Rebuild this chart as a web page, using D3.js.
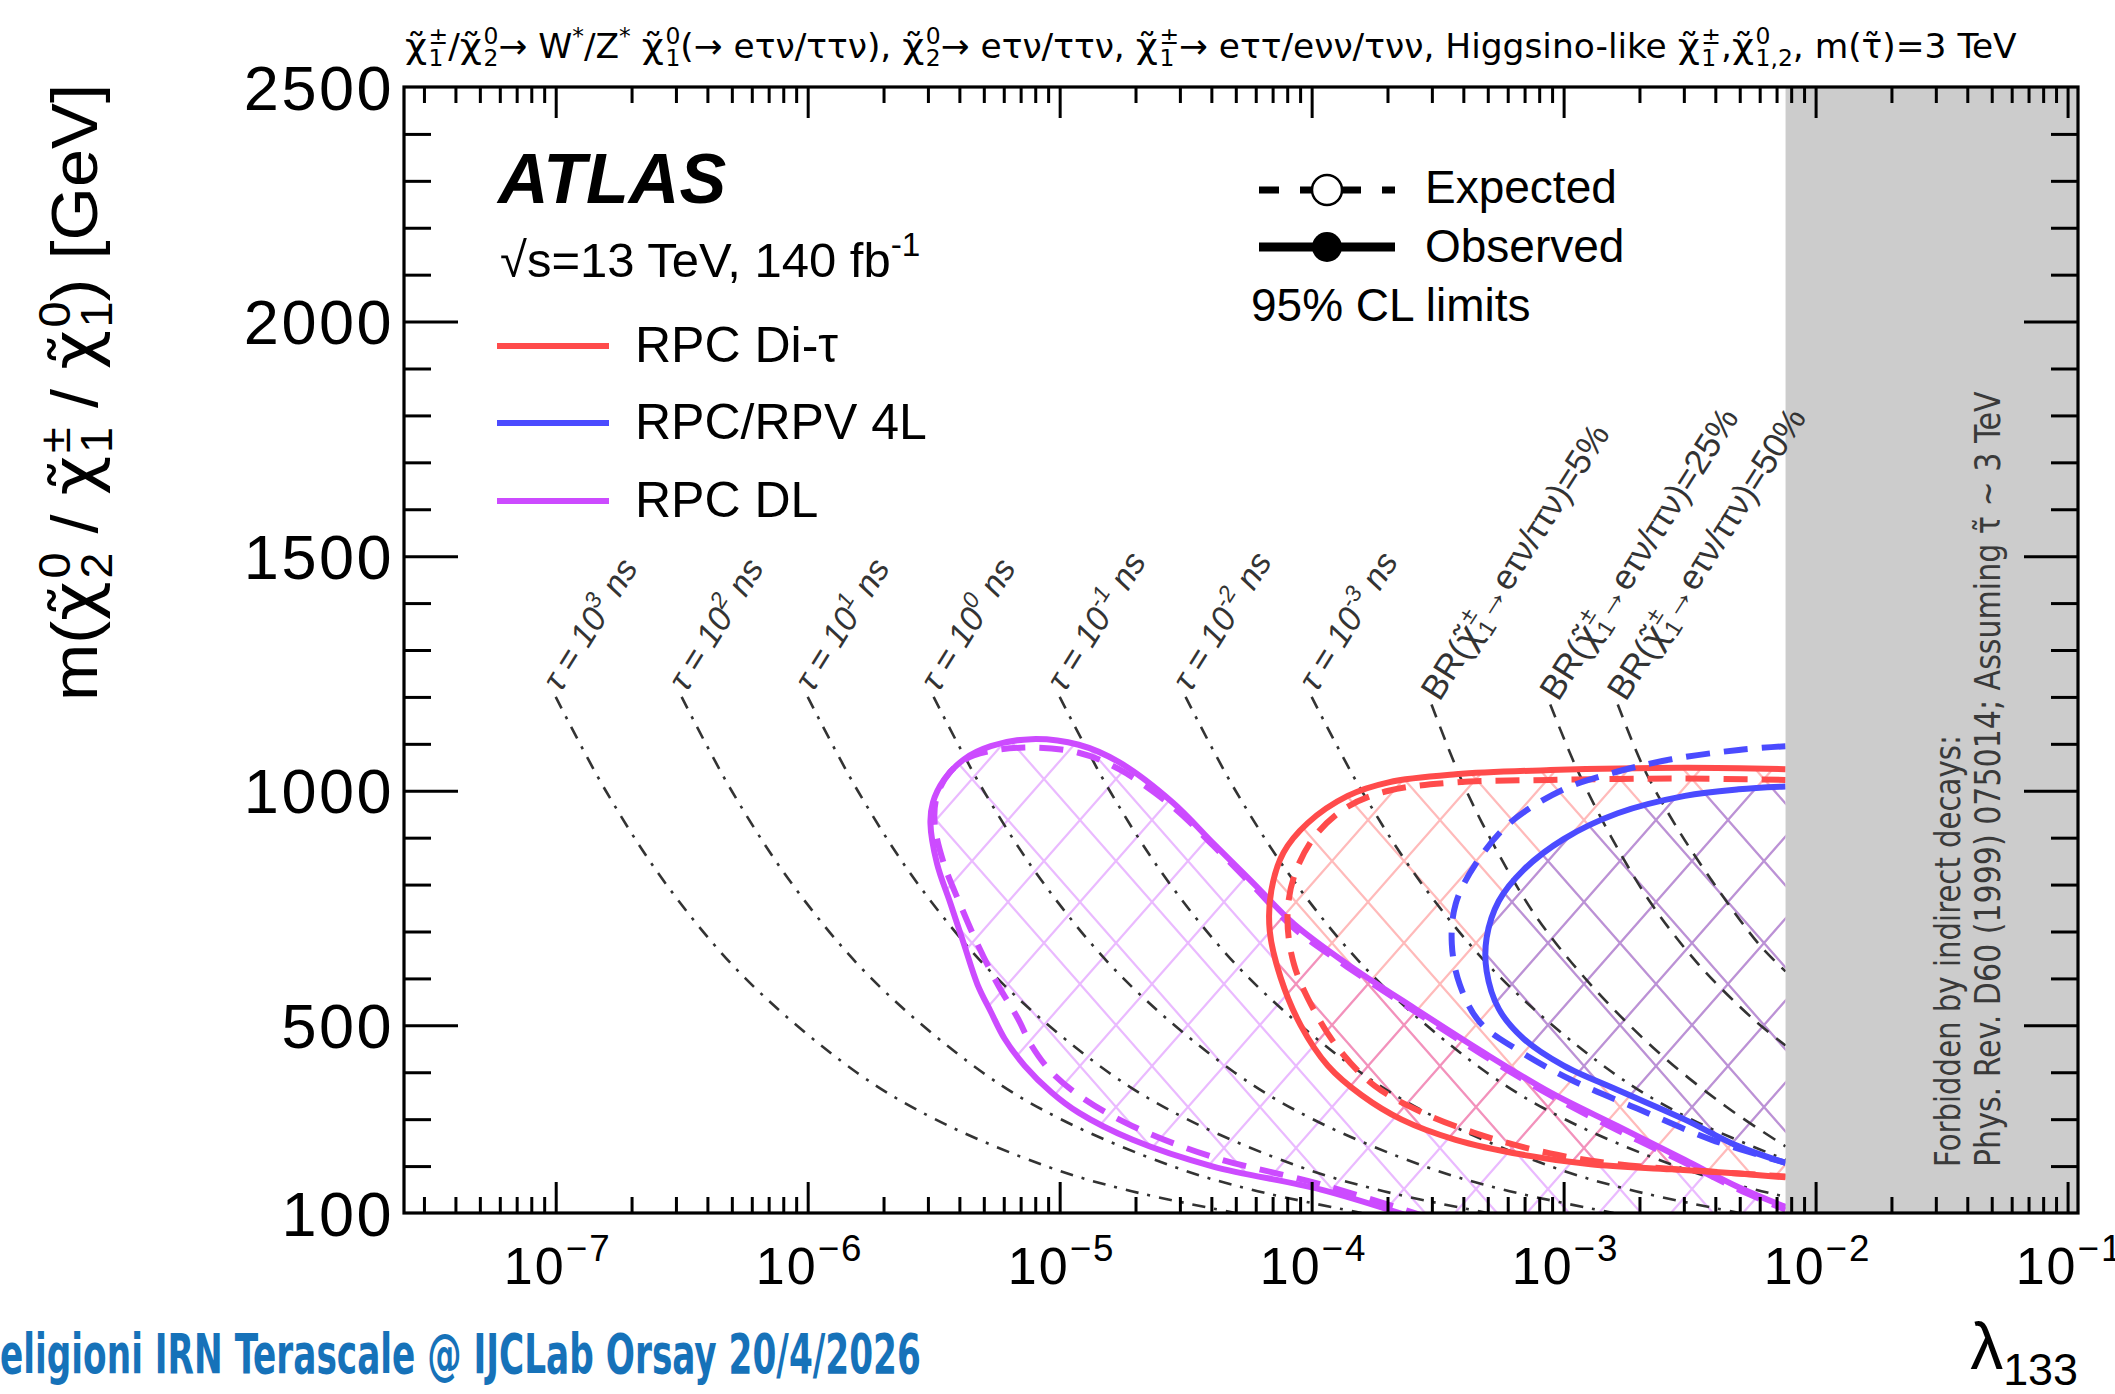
<!DOCTYPE html>
<html>
<head>
<meta charset="utf-8">
<script src="https://cdn.jsdelivr.net/npm/d3@7"></script>
<style>
  html, body { margin: 0; padding: 0; background: #fff; }
  svg { display: block; font-family: 'Liberation Sans', Arial, Helvetica, sans-serif; }
</style>
</head>
<body>
<div id="chart"></div>
<script>
// ---- values ([lambda133, mass GeV]) ----
const xTickValues = [1e-7, 1e-6, 1e-5, 1e-4, 1e-3, 1e-2, 1e-1];
const xTickExponents = ['\u22127', '\u22126', '\u22125', '\u22124', '\u22123', '\u22122', '\u22121'];
const yTickValues = [100, 500, 1000, 1500, 2000, 2500];
const forbiddenFrom = 7.6e-3;

// RPC DL
const dlObs = [[2.75e-4, 84], [1.09e-4, 150], [4.07e-5, 199], [1.95e-5, 256], [1.19e-5, 314], [9.29e-6, 357],
  [7.26e-6, 414], [6.04e-6, 472], [5.33e-6, 529], [4.72e-6, 587], [4.17e-6, 673], [3.69e-6, 759], [3.26e-6, 845],
  [3.07e-6, 931], [3.14e-6, 975], [3.47e-6, 1023], [4.17e-6, 1067], [5.33e-6, 1095], [7.73e-6, 1110],
  [1.19e-5, 1098], [1.72e-5, 1061], [2.81e-5, 975], [4.07e-5, 888], [5.89e-5, 802], [8.51e-5, 716],
  [1.39e-4, 630], [2.58e-4, 535], [4.78e-4, 443], [8.85e-4, 357], [1.64e-3, 285], [3.03e-3, 213],
  [4.95e-3, 155], [7.6e-3, 113]];
const dlExp = [[2.92e-4, 90], [1.09e-4, 161], [4.07e-5, 219], [1.95e-5, 285], [1.26e-5, 342], [9.29e-6, 400],
  [7.73e-6, 457], [6.82e-6, 515], [5.68e-6, 587], [4.72e-6, 673], [4.02e-6, 759], [3.47e-6, 845], [3.19e-6, 931],
  [3.26e-6, 989], [3.69e-6, 1041], [4.55e-6, 1075], [7.26e-6, 1092], [1.19e-5, 1081], [1.72e-5, 1046],
  [2.81e-5, 966], [4.07e-5, 883], [5.89e-5, 796], [8.51e-5, 707], [1.39e-4, 624], [2.58e-4, 529],
  [4.78e-4, 437], [8.85e-4, 351], [1.64e-3, 276], [3.03e-3, 207], [4.95e-3, 150], [7.6e-3, 107]];

// RPC Di-tau
const diTauObs = [[7.6e-3, 1046], [3.03e-3, 1049], [8.85e-4, 1044], [3.73e-4, 1035], [2.02e-4, 1018],
  [1.39e-4, 989], [9.64e-5, 931], [7.73e-5, 868], [6.92e-5, 788], [6.82e-5, 701], [7.54e-5, 601], [9.05e-5, 500],
  [1.16e-4, 414], [1.58e-4, 351], [2.28e-4, 299], [3.73e-4, 256], [6.92e-4, 224], [1.28e-3, 204],
  [2.68e-3, 193], [4.95e-3, 184], [7.6e-3, 176]];
const diTauExp = [[7.6e-3, 1023], [3.03e-3, 1026], [8.85e-4, 1023], [3.73e-4, 1018], [2.02e-4, 1000],
  [1.39e-4, 966], [1.03e-4, 903], [8.51e-5, 817], [8.02e-5, 730], [8.51e-5, 630], [1.03e-4, 529],
  [1.31e-4, 443], [1.78e-4, 371], [2.75e-4, 314], [4.78e-4, 265], [8.85e-4, 227], [1.64e-3, 204],
  [3.43e-3, 190], [7.6e-3, 178]];

// RPC/RPV 4L
const fourLObs = [[7.6e-3, 1009], [4.95e-3, 1003], [3.03e-3, 989], [1.64e-3, 952], [1.0e-3, 897],
  [6.92e-4, 831], [5.53e-4, 765], [4.95e-4, 687], [4.95e-4, 615], [5.53e-4, 535], [6.92e-4, 472],
  [1.0e-3, 414], [1.64e-3, 362], [3.03e-3, 299], [4.95e-3, 242], [7.6e-3, 207]];
const fourLExp = [[7.6e-3, 1095], [4.95e-3, 1087], [2.68e-3, 1067], [1.64e-3, 1041], [1.0e-3, 1003],
  [6.11e-4, 931], [4.49e-4, 845], [3.73e-4, 759], [3.6e-4, 673], [3.87e-4, 587], [4.66e-4, 506],
  [6.5e-4, 449], [1.06e-3, 385], [1.97e-3, 322], [3.87e-3, 256], [7.6e-3, 207]];

// lifetime contours
const tauLabels = ['3', '2', '1', '0', '-1', '-2', '-3'];
const tau1e3 = [[1.0e-7, 1200], [1.58e-7, 1000], [2.75e-7, 800], [5.66e-7, 600], [1.56e-6, 400], [3.2e-6, 300], [8.81e-6, 200], [1.81e-5, 150], [4.99e-5, 100]];
const tau1e2 = [[3.16e-7, 1200], [4.99e-7, 1000], [8.71e-7, 800], [1.79e-6, 600], [4.93e-6, 400], [1.01e-5, 300], [2.79e-5, 200], [5.73e-5, 150], [1.58e-4, 100]];
const tau1e1 = [[1.0e-6, 1200], [1.58e-6, 1000], [2.75e-6, 800], [5.66e-6, 600], [1.56e-5, 400], [3.2e-5, 300], [8.81e-5, 200], [1.81e-4, 150], [4.99e-4, 100]];
const tau1e0 = [[3.16e-6, 1200], [4.99e-6, 1000], [8.71e-6, 800], [1.79e-5, 600], [4.93e-5, 400], [1.01e-4, 300], [2.79e-4, 200], [5.73e-4, 150], [1.58e-3, 100]];
const tau1em1 = [[1.0e-5, 1200], [1.58e-5, 1000], [2.75e-5, 800], [5.66e-5, 600], [1.56e-4, 400], [3.2e-4, 300], [8.81e-4, 200], [1.81e-3, 150], [4.99e-3, 100]];
const tau1em2 = [[3.16e-5, 1200], [4.99e-5, 1000], [8.71e-5, 800], [1.79e-4, 600], [4.93e-4, 400], [1.01e-3, 300], [2.79e-3, 200], [5.73e-3, 150], [1.58e-2, 100]];
const tau1em3 = [[1.0e-4, 1200], [1.58e-4, 1000], [2.75e-4, 800], [5.66e-4, 600], [1.56e-3, 400], [3.2e-3, 300], [8.81e-3, 200]];

// branching-ratio contours
const brLabels = ['5%', '25%', '50%'];
const br5 = [[2.99e-4, 1184], [3.97e-4, 1018], [5.41e-4, 874], [7.82e-4, 730], [1.28e-3, 587], [2.37e-3, 443], [4.38e-3, 328], [7.6e-3, 242]];
const br25 = [[8.85e-4, 1184], [1.13e-3, 1046], [1.54e-3, 903], [2.23e-3, 759], [3.43e-3, 630], [5.61e-3, 515], [7.6e-3, 457]];
const br50 = [[1.64e-3, 1184], [2.09e-3, 1046], [2.85e-3, 917], [4.12e-3, 788], [5.96e-3, 673], [7.6e-3, 615]];

// ---- layout ----
const W = 2115, H = 1394;
const L = 404, R = 2078, T = 87, B = 1213;
const CHI = { txt: 'χ\u0303', ff: "'DejaVu Sans',sans-serif" };
const red = '#ff4b4b', blue = '#4b4bff', violet = '#cc4bff';

const x = d3.scaleLog().domain([2.5e-8, 0.11]).range([L, R]);
const y = d3.scaleLinear().domain([100, 2500]).range([B, T]);

const svg = d3.select('#chart').append('svg').attr('width', W).attr('height', H);
const defs = svg.append('defs');

defs.append('clipPath').attr('id', 'plot')
  .append('rect').attr('x', L).attr('y', T).attr('width', R - L).attr('height', B - T);

function hatch(id, color) {
  const p = defs.append('pattern').attr('id', id)
    .attr('patternUnits', 'userSpaceOnUse').attr('width', 72).attr('height', 82);
  p.append('path').attr('d', 'M0,0L72,82M72,0L0,82')
    .attr('stroke', color).attr('stroke-width', 2.2).attr('fill', 'none');
}
hatch('hRed', 'rgba(255,90,90,0.42)');
hatch('hBlue', 'rgba(90,90,255,0.42)');
hatch('hViolet', 'rgba(205,90,255,0.42)');

// rich text: strings, {txt, ff} glyph runs, or {sup, sub} stacked
function rich(text, parts, fs) {
  let pending = 0;
  const add = (str, size, shift) => {
    const t = text.append('tspan').text(str);
    if (size) t.attr('font-size', size);
    if (shift) t.attr('baseline-shift', shift + 'px');
    if (pending) { t.attr('dx', pending); pending = 0; }
    return t;
  };
  parts.forEach(p => {
    if (typeof p === 'string') { add(p); return; }
    if (p.txt) { add(p.txt).attr('font-family', p.ff); pending = fs * 0.04; return; }
    let w = 0;
    if (p.sup != null) w = add(p.sup, fs * 0.68, fs * 0.42).node().getComputedTextLength();
    if (p.sub != null) {
      if (w) pending = -w;
      const w2 = add(p.sub, fs * 0.68, -fs * 0.24).node().getComputedTextLength();
      if (w > w2) pending = w - w2;
    }
  });
  return text;
}

// text placed in a group, stretched to a target length along its direction
function placed(x0, y0, rot, parts, fs, attrs, target) {
  const g = svg.append('g');
  const t = g.append('text').attr('font-size', fs);
  Object.entries(attrs || {}).forEach(([k, v]) => t.attr(k, v));
  rich(t, parts, fs);
  let s = 1;
  if (target) s = target / t.node().getBBox().width;
  g.attr('transform', `translate(${x0},${y0}) rotate(${rot}) scale(${s},1)`);
  return g;
}

const line = d3.line().x(d => x(d[0])).y(d => y(d[1]));
const smooth = d3.line().x(d => x(d[0])).y(d => y(d[1])).curve(d3.curveCatmullRom.alpha(0.5));

const plot = svg.append('g').attr('clip-path', 'url(#plot)');

// hatched excluded regions
plot.append('path').datum(dlObs.concat([[dlObs[dlObs.length - 1][0], 60], [dlObs[0][0], 60]]))
  .attr('d', line).attr('fill', 'url(#hViolet)');
plot.append('path').datum(diTauObs).attr('d', line).attr('fill', 'url(#hRed)');
plot.append('path').datum(fourLObs).attr('d', line).attr('fill', 'url(#hBlue)');

// lifetime and BR lines
const tauCurves = [tau1e3, tau1e2, tau1e1, tau1e0, tau1em1, tau1em2, tau1em3];
tauCurves.forEach(c => {
  plot.append('path').datum(c).attr('d', smooth).attr('fill', 'none')
    .attr('stroke', '#333').attr('stroke-width', 2.6).attr('stroke-dasharray', '13,9,3,9');
});
const brCurves = [br5, br25, br50];
brCurves.forEach(c => {
  plot.append('path').datum(c).attr('d', smooth).attr('fill', 'none')
    .attr('stroke', '#333').attr('stroke-width', 2.6).attr('stroke-dasharray', '14,10');
});

// limit contours
[[dlExp, violet, true], [dlObs, violet, false], [diTauExp, red, true], [diTauObs, red, false],
 [fourLExp, blue, true], [fourLObs, blue, false]].forEach(([c, col, dashed]) => {
  plot.append('path').datum(c).attr('d', smooth).attr('fill', 'none')
    .attr('stroke', col).attr('stroke-width', 6).attr('stroke-linejoin', 'round')
    .attr('stroke-dasharray', dashed ? '24,14' : null);
});

// forbidden band
plot.append('rect').attr('x', x(forbiddenFrom)).attr('y', T)
  .attr('width', R - x(forbiddenFrom)).attr('height', B - T).attr('fill', '#cccccc');

const narrow = "'Liberation Sans Narrow','DejaVu Sans Condensed',sans-serif";
placed(1960, 1167, -90, ['Forbidden by indirect decays:'], 36, { fill: '#3a3a3a', 'font-family': narrow }, 432);
placed(2000, 1167, -90, ['Phys. Rev. D60 (1999) 075014; Assuming τ\u0303 ~ 3 TeV'], 36,
  { fill: '#3a3a3a', 'font-family': narrow }, 776);

// curve labels
tauCurves.forEach((c, i) => {
  placed(x(c[0][0]) + 5, y(c[0][1]) - 4, -58, ['τ = 10', { sup: tauLabels[i] }, ' ns'], 34,
    { fill: '#333', 'font-style': 'italic' });
});
brCurves.forEach((c, i) => {
  placed(x(c[0][0]) + 8, y(c[0][1]) - 2, -57.5,
    ['BR(', CHI, { sup: '±', sub: '1' }, '→eτν/ττν)=' + brLabels[i]], 35, { fill: '#333' });
});

// frame and ticks
function ticks(axisFn, scale, values, size, transform) {
  const g = svg.append('g').attr('transform', transform)
    .call(axisFn(scale).tickValues(values).tickSize(-size).tickSizeOuter(0).tickFormat(''));
  g.select('.domain').remove();
  g.selectAll('line').attr('stroke', '#000').attr('stroke-width', 3);
}
const xMinor = [];
for (let e = -8; e <= -1; e++) for (let k = 2; k <= 9; k++) {
  const v = k * Math.pow(10, e);
  if (v > 2.5e-8 && v < 0.11) xMinor.push(v);
}
const yMajor = [500, 1000, 1500, 2000];
const yMinor = d3.range(200, 2500, 100).filter(v => v % 500 !== 0);

ticks(d3.axisBottom, x, xTickValues, 31, `translate(0,${B})`);
ticks(d3.axisBottom, x, xMinor, 16, `translate(0,${B})`);
ticks(d3.axisTop, x, xTickValues, 31, `translate(0,${T})`);
ticks(d3.axisTop, x, xMinor, 16, `translate(0,${T})`);
ticks(d3.axisLeft, y, yMajor, 54, `translate(${L},0)`);
ticks(d3.axisLeft, y, yMinor, 27, `translate(${L},0)`);
ticks(d3.axisRight, y, yMajor, 54, `translate(${R},0)`);
ticks(d3.axisRight, y, yMinor, 27, `translate(${R},0)`);

svg.append('rect').attr('x', L).attr('y', T).attr('width', R - L).attr('height', B - T)
  .attr('fill', 'none').attr('stroke', '#000').attr('stroke-width', 3.2);

// tick labels
xTickValues.forEach((v, i) => {
  rich(svg.append('text').attr('x', x(v) + 2).attr('y', 1284).attr('font-size', 52)
    .attr('letter-spacing', 2).attr('text-anchor', 'middle'), ['10', { sup: xTickExponents[i] }], 54);
});
yTickValues.forEach(v => {
  svg.append('text').attr('x', 394).attr('y', y(v)).attr('dy', '0.36em')
    .attr('text-anchor', 'end').attr('font-size', 63).attr('letter-spacing', 2.5).text(v);
});

// axis titles
placed(97, 701, -90, ['m(', CHI, { sup: '0', sub: '2' }, ' / ', CHI, { sup: '±', sub: '1' }, ' / ',
  CHI, { sup: '0', sub: '1' }, ') [GeV]'], 64, {}, 617);
rich(svg.append('text').attr('x', R).attr('y', 1369).attr('font-size', 66).attr('text-anchor', 'end'),
  ['λ', { sub: '133' }], 66);

// header
placed(405, 58, 0, [CHI, { sup: '±', sub: '1' }, '/', CHI, { sup: '0', sub: '2' }, '→ W', { sup: '*' }, '/Z',
  { sup: '*' }, ' ', CHI, { sup: '0', sub: '1' }, '(→ eτν/ττν), ', CHI, { sup: '0', sub: '2' }, '→ eτν/ττν, ',
  CHI, { sup: '±', sub: '1' }, '→ eττ/eνν/τνν, Higgsino-like ', CHI, { sup: '±', sub: '1' }, ',',
  CHI, { sup: '0', sub: '1,2' }, ', m(τ\u0303)=3 TeV'], 34, { 'font-family': narrow }, 1612);

// ATLAS block and legend
svg.append('text').attr('x', 498).attr('y', 203).attr('font-size', 70)
  .attr('font-weight', 'bold').attr('font-style', 'italic').text('ATLAS');
rich(svg.append('text').attr('x', 500).attr('y', 277).attr('font-size', 49),
  ['√s=13 TeV, 140 fb', { sup: '-1' }], 49);

const legendItems = [['RPC Di-τ', red, 346], ['RPC/RPV 4L', blue, 423], ['RPC DL', violet, 501]];
legendItems.forEach(([label, col, ly]) => {
  svg.append('line').attr('x1', 497).attr('x2', 609).attr('y1', ly).attr('y2', ly)
    .attr('stroke', col).attr('stroke-width', 6);
  svg.append('text').attr('x', 635).attr('y', ly + 16).attr('font-size', 50).text(label);
});

svg.append('line').attr('x1', 1259).attr('x2', 1395).attr('y1', 190).attr('y2', 190)
  .attr('stroke', '#000').attr('stroke-width', 7).attr('stroke-dasharray', '20,21');
svg.append('circle').attr('cx', 1327).attr('cy', 190).attr('r', 15)
  .attr('fill', '#fff').attr('stroke', '#000').attr('stroke-width', 2.5);
svg.append('line').attr('x1', 1259).attr('x2', 1395).attr('y1', 247).attr('y2', 247)
  .attr('stroke', '#000').attr('stroke-width', 9);
svg.append('circle').attr('cx', 1327).attr('cy', 247).attr('r', 15).attr('fill', '#000');
svg.append('text').attr('x', 1425).attr('y', 203).attr('font-size', 46).text('Expected');
svg.append('text').attr('x', 1425).attr('y', 262).attr('font-size', 46).text('Observed');
svg.append('text').attr('x', 1251).attr('y', 321).attr('font-size', 46).text('95% CL limits');

// footer
placed(0, 1373, 0, ['eligioni IRN Terascale @ IJCLab Orsay 20/4/2026'], 56,
  { fill: '#1672b9', 'font-weight': 'bold', 'font-family': narrow }, 921);
</script>
</body>
</html>
